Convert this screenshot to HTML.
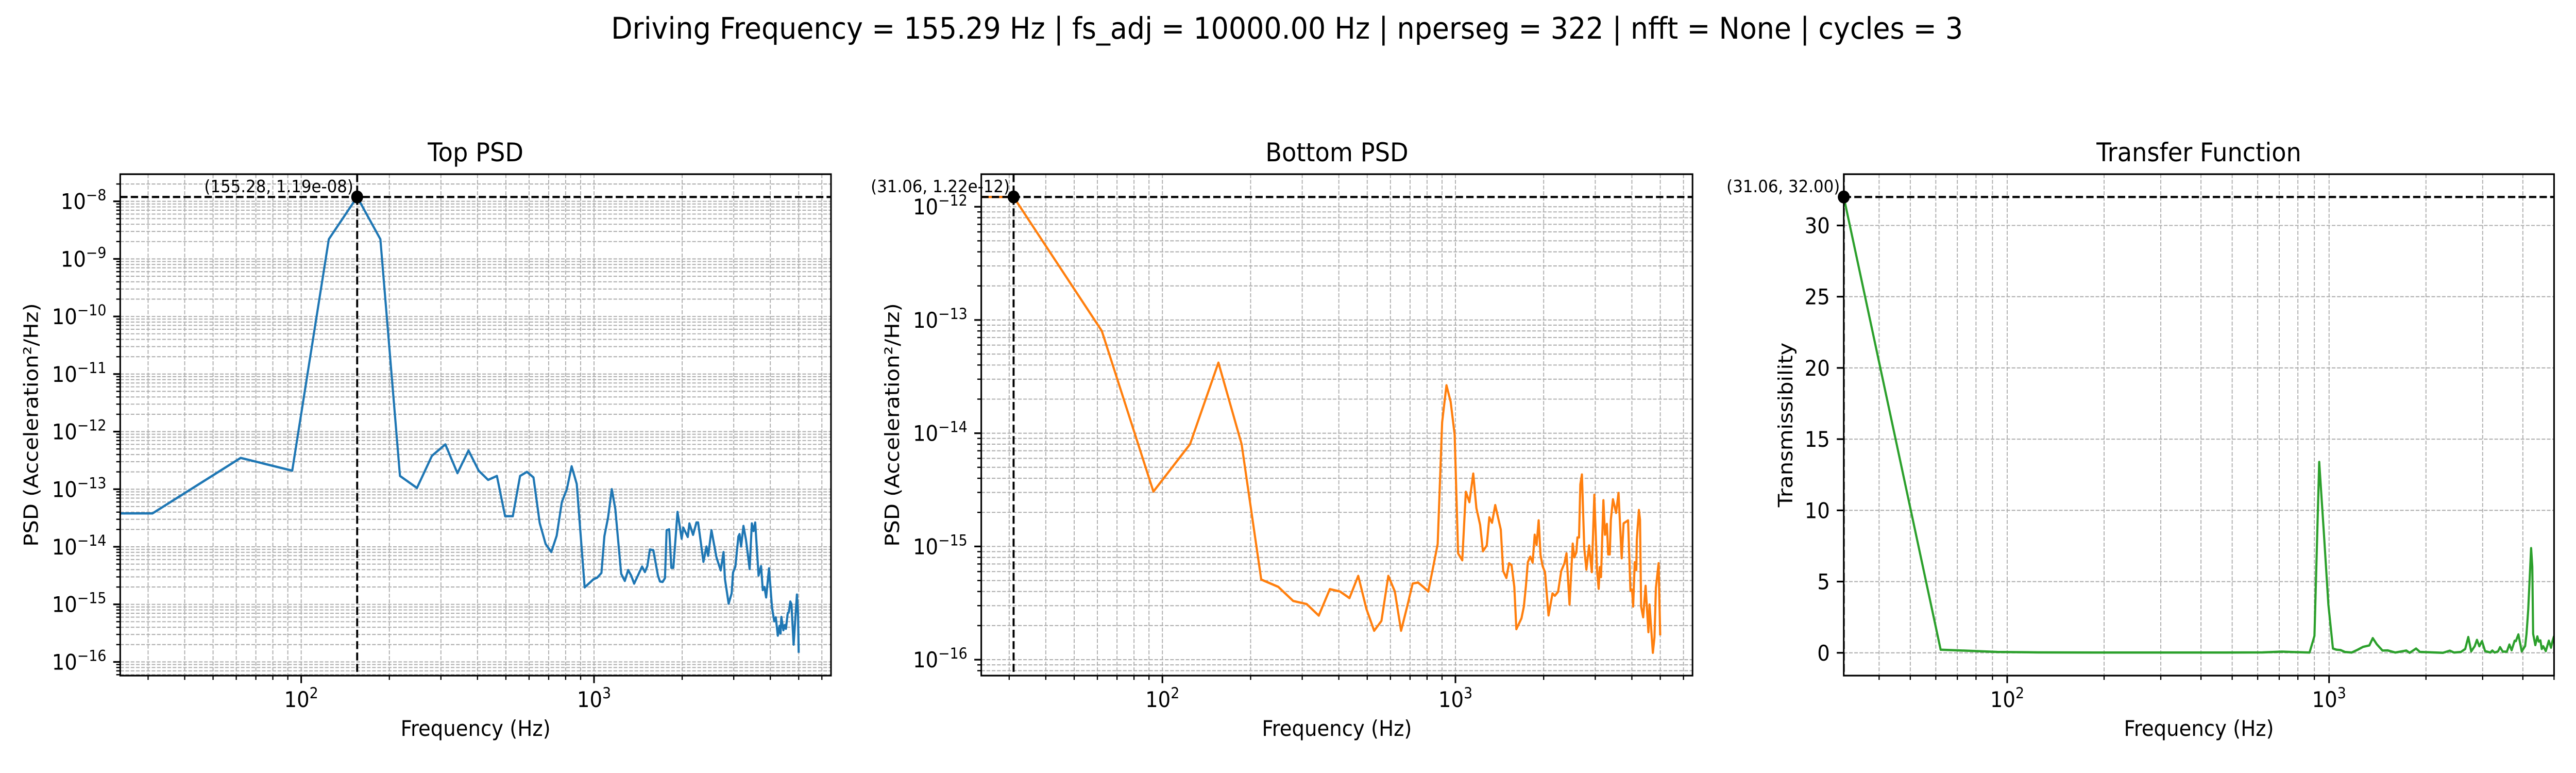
<!DOCTYPE html>
<html><head><meta charset="utf-8"><title>PSD and Transfer Function</title>
<style>
html,body{margin:0;padding:0;background:#fff;width:100%;height:100%;overflow:hidden;}
svg{display:block;position:absolute;left:0;top:0;width:100vw;height:100vh;overflow:hidden;font-family:"DejaVu Sans","Liberation Sans",sans-serif;}
</style></head>
<body>
<svg id="fig" xmlns="http://www.w3.org/2000/svg" viewBox="0 0 5400 1500" preserveAspectRatio="none">
<rect x="0" y="0" width="5400" height="1500" fill="#ffffff"/>
<text x="2698" y="75" font-size="58" text-anchor="middle" textLength="2834" lengthAdjust="spacingAndGlyphs">Driving Frequency = 155.29 Hz | fs_adj = 10000.00 Hz | nperseg = 322 | nfft = None | cycles = 3</text>
</svg>
<script>
// ---- Top PSD data ----
const topFreq = [0,31.06,62.12,93.18,124.24,155.28,186.35,217.41,248.47,279.53,310.59,341.65,372.71,403.77,434.83,465.9,496.96,528.0,559.1,590.1,621.2,652.3,683.3,714.4,745.4,776.5,807.6,838.6,
873,929,996,1026,1060,1085,1117,1150,1182,1238,1274,1308,1339,1371,1459,1492,1521,1552,1594,1653,1679,1715,1747,1770,1806,1837,1866,1928,1992,2018,2090,2117,2179,2237,2267,2364,2421,2453,2518,2620,2708,2769,2799,2882,2951,2983,3039,3112,3141,3179,3238,3303,3400,3459,3505,3552,3647,3720,3770,3820,3871,3959,4055,4126,4176,4243,4300,4335,4363,4433,4481,4522,4588,4631,4680,4723,4804,4931,4976,5000];
const topPsd = [3.8e-14,3.8e-14,3.5e-13,2.1e-13,2.2e-9,1.19e-8,2.2e-9,1.7e-13,1.05e-13,3.8e-13,6e-13,1.9e-13,4.7e-13,2.1e-13,1.45e-13,1.7e-13,3.4e-14,3.4e-14,1.7e-13,2e-13,1.6e-13,2.6e-14,1.12e-14,8.1e-15,1.55e-14,6e-14,1e-13,2.5e-13,
1.23e-13,1.97e-15,2.73e-15,2.92e-15,3.52e-15,1.53e-14,3.24e-14,1.0e-13,4.56e-14,3.4e-15,2.55e-15,3.95e-15,3.17e-15,2.29e-15,4.53e-15,3.64e-15,4.62e-15,8.97e-15,8.73e-15,3.17e-15,2.5e-15,2.45e-15,2.86e-15,1.94e-14,2.01e-14,4.32e-15,4.32e-15,4.03e-14,1.38e-14,2.15e-14,1.48e-14,2.55e-14,1.61e-14,2.64e-14,2.64e-14,5.48e-15,1.01e-14,6.97e-15,1.94e-14,6.5e-15,3.89e-15,8.09e-15,2.77e-15,1.03e-15,1.55e-15,3.56e-15,4.53e-15,1.51e-14,1.66e-14,1.01e-14,2.3e-14,1.33e-14,4.11e-15,2.55e-14,1.88e-14,2.64e-14,3.17e-15,4.62e-15,1.77e-15,2.0e-15,1.32e-15,4.22e-15,8.7e-16,5.08e-16,5.94e-16,2.86e-16,4.23e-16,3.11e-16,6.03e-16,3.56e-16,4.38e-16,3.77e-16,7.06e-16,7.45e-16,1.12e-15,1.01e-15,2.0e-16,1.48e-15,6.59e-16,1.44e-16];

// ---- Bottom PSD data ----
const botFreq = [0,31.06,62.12,93.18,124.24,155.3,186.35,217.41,248.47,279.53,310.59,341.65,372.71,403.77,434.83,465.9,496.96,528.0,559.1,590.1,621.2,652.3,683.3,714.4,745.4,776.5,807.6,838.6,869.7,900.7,931.8,962.9,993.9,
1021,1055,1085,1116,1150,1179,1214,1241,1279,1305,1333,1367,1428,1455,1492,1524,1554,1588,1614,1680,1712,1740,1766,1800,1834,1864,1892,1923,1952,1984,2021,2078,2144,2184,2240,2296,2355,2393,2451,2513,2544,2586,2608,2641,2668,2701,2752,2798,2858,2920,2978,3042,3081,3108,3139,3198,3238,3287,3320,3362,3391,3447,3534,3601,3692,3748,3882,3956,4005,4040,4091,4142,4158,4227,4264,4301,4371,4455,4555,4595,4717,4777,4831,4935,4997];
const botPsd = [1.22e-12,1.22e-12,8e-14,3.05e-15,8e-15,4.2e-14,8e-15,5.1e-16,4.4e-16,3.3e-16,3.1e-16,2.45e-16,4.2e-16,4e-16,3.5e-16,5.5e-16,2.8e-16,1.8e-16,2.2e-16,5.5e-16,4e-16,1.8e-16,2.9e-16,4.7e-16,4.8e-16,4.4e-16,4e-16,6.5e-16,1.05e-15,1.25e-14,2.65e-14,1.9e-14,9.7e-15,
8.69e-16,7.55e-16,3.04e-15,2.46e-15,4.4e-15,2.18e-15,1.55e-15,9.06e-16,1.02e-15,1.81e-15,1.62e-15,2.32e-15,1.41e-15,6.07e-16,5.27e-16,7.11e-16,6.84e-16,4.4e-16,1.86e-16,2.32e-16,2.95e-16,4.49e-16,7.26e-16,8.13e-16,7.2e-16,1.27e-15,1.03e-15,1.7e-15,8.36e-16,6.7e-16,5.94e-16,2.46e-16,3.85e-16,3.67e-16,3.98e-16,6.07e-16,7.11e-16,8.69e-16,3.07e-16,1.06e-15,8.02e-16,8.87e-16,1.2e-15,1.2e-15,3.53e-15,4.32e-15,9.62e-16,6.24e-16,1.02e-15,5.94e-16,2.86e-15,6.18e-16,4.23e-16,6.56e-16,5.37e-16,2.56e-15,1.27e-15,1.58e-15,8.51e-16,8.51e-16,1.72e-15,2.61e-15,1.98e-15,2.97e-15,7.87e-16,1.6e-15,1.7e-15,4.06e-16,4.14e-16,2.95e-16,7.26e-16,6.18e-16,1.15e-15,2.1e-15,1.72e-15,2.95e-16,2.37e-16,4.49e-16,1.75e-16,3.07e-16,1.15e-16,1.58e-16,4.32e-16,7.11e-16,1.64e-16];

// ---- Transfer function data ----
const tfFreq = [31.06,62.12,93.18,124.24,186.35,310.59,465.9,621.2,714.4,807.6,869.7,900.7,931.8,962.9,995,
1028,1054,1087,1120,1176,1228,1276,1334,1367,1407,1465,1520,1605,1738,1780,1863,1916,2259,2371,2444,2568,2648,2707,2764,2834,2880,2930,2986,3053,3168,3215,3268,3349,3398,3465,3567,3633,3691,3772,3804,3874,3968,4066,4106,4156,4243,4279,4305,4373,4437,4480,4535,4579,4628,4713,4817,4892,4945,5000];
const tfVal = [32.0,0.22,0.06,0.03,0.02,0.02,0.02,0.03,0.08,0.04,0.02,1.19,13.4,8.5,3.39,
0.30,0.22,0.19,0.06,0.02,0.22,0.42,0.52,1.03,0.60,0.16,0.17,0.02,0.16,0.0,0.30,0.06,0.0,0.15,0.02,0.06,0.27,1.11,0.10,0.46,0.91,0.46,0.82,0.12,0.02,0.16,0.02,0.10,0.40,0.08,0.08,0.58,0.18,0.85,0.82,1.29,0.10,0.48,1.33,3.02,7.35,6.05,1.33,0.54,1.15,0.79,0.87,0.27,0.46,0.12,0.85,0.36,0.82,1.18];

const NS='http://www.w3.org/2000/svg';
const svg=document.getElementById('fig');
function mk(tag, attrs, parent){const e=document.createElementNS(NS,tag);for(const k in attrs)e.setAttribute(k,attrs[k]);(parent||svg).appendChild(e);return e;}

const panels=[
 {key:'top',left:252,top:338,w:1490,h:973,freq:topFreq,vals:topPsd,color:'#1f77b4',logY:true,tight:false,title:'Top PSD',ylabel:'PSD (Acceleration²/Hz)',ylabelX:66},
 {key:'bottom',left:2057,top:338,w:1491,h:973,freq:botFreq,vals:botPsd,color:'#ff7f0e',logY:true,tight:false,title:'Bottom PSD',ylabel:'PSD (Acceleration²/Hz)',ylabelX:1871},
 {key:'transfer',left:3865,top:338,w:1489,h:973,freq:tfFreq,vals:tfVal,color:'#2ca02c',logY:false,tight:true,title:'Transfer Function',ylabel:'Transmissibility',ylabelX:3744}
];
const GRID='#b0b0b0';
function fmtExp(v){let s=v.toExponential(2);return s.replace(/e([+-])(\d)$/,'e$10$2');}

panels.forEach(p=>{
  const g=mk('g',{});
  
  
  const pos=p.freq.filter(f=>f>0);
  let xlo=Math.log10(Math.min(...pos)), xhi=Math.log10(Math.max(...pos));
  if(!p.tight){const m=(xhi-xlo)*0.05;xlo-=m;xhi+=m;}
  let ylo,yhi;
  if(p.logY){const lv=p.vals.map(v=>Math.log10(v));ylo=Math.min(...lv);yhi=Math.max(...lv);}
  else{ylo=Math.min(...p.vals);yhi=Math.max(...p.vals);}
  const ym=(yhi-ylo)*0.05;ylo-=ym;yhi+=ym;
  const L=p.left,T=p.top,R=p.left+p.w,B=p.top+p.h;
  const sx=f=>f<=0?L-200:L+(Math.log10(f)-xlo)/(xhi-xlo)*p.w;
  const sy=v=>p.logY?T+(yhi-Math.log10(v))/(yhi-ylo)*p.h:T+(yhi-v)/(yhi-ylo)*p.h;
  const syRaw=e=>T+(yhi-e)/(yhi-ylo)*p.h;

  const defs=mk('defs',{},g);
  const cp=mk('clipPath',{id:'clip-'+p.key},defs);
  mk('rect',{x:L,y:T,width:p.w,height:p.h},cp);

  const xt=[],xm=[];
  for(let d=Math.floor(xlo);d<=Math.ceil(xhi);d++){
    if(d>=xlo-1e-9&&d<=xhi+1e-9)xt.push(d);
    for(let m=2;m<=9;m++){const e=d+Math.log10(m);if(e>=xlo-1e-9&&e<=xhi+1e-9)xm.push(e);}
  }
  const xpos=e=>L+(e-xlo)/(xhi-xlo)*p.w;
  xm.forEach(e=>{
    const x=xpos(e);
    const gl=mk('line',{x1:x,x2:x,y1:T,y2:B,stroke:GRID,'stroke-width':2.1,'stroke-dasharray':'7.7 3.3'},g);
    
    
    const tk=mk('line',{x1:x,x2:x,y1:B,y2:B+8.3,stroke:'#000','stroke-width':2.5},g);
    
    
  });
  xt.forEach(e=>{
    const x=xpos(e);
    const gl=mk('line',{x1:x,x2:x,y1:T,y2:B,stroke:GRID,'stroke-width':2.1,'stroke-dasharray':'7.7 3.3'},g);
    
    
    const tk=mk('line',{x1:x,x2:x,y1:B,y2:B+14.6,stroke:'#000','stroke-width':3.3},g);
    
    
    const t=mk('text',{x:x,y:1372,'font-size':41.7,'text-anchor':'middle'},g);
    
    
    t.appendChild(document.createTextNode('10'));
    const sp=mk('tspan',{dy:-17,'font-size':29},t);
    sp.textContent=String(e).replace('-','\u2212');
  });

  if(p.logY){
    const yt=[],ymn=[];
    for(let d=Math.floor(ylo);d<=Math.ceil(yhi);d++){
      if(d>=ylo&&d<=yhi)yt.push(d);
      for(let m=2;m<=9;m++){const e=d+Math.log10(m);if(e>=ylo&&e<=yhi)ymn.push(e);}
    }
    ymn.forEach(e=>{
      const y=syRaw(e);
      const gl=mk('line',{x1:L,x2:R,y1:y,y2:y,stroke:GRID,'stroke-width':2.1,'stroke-dasharray':'7.7 3.3'},g);
      
      
      const tk=mk('line',{x1:L-8.3,x2:L,y1:y,y2:y,stroke:'#000','stroke-width':2.5},g);
      
      
    });
    yt.forEach(e=>{
      const y=syRaw(e);
      const gl=mk('line',{x1:L,x2:R,y1:y,y2:y,stroke:GRID,'stroke-width':2.1,'stroke-dasharray':'7.7 3.3'},g);
      
      
      const tk=mk('line',{x1:L-14.6,x2:L,y1:y,y2:y,stroke:'#000','stroke-width':3.3},g);
      
      
      const t=mk('text',{x:L-29,y:y+15,'font-size':41.7,'text-anchor':'end'},g);
      
      
      t.appendChild(document.createTextNode('10'));
      const sp=mk('tspan',{dy:-17,'font-size':29},t);
      sp.textContent=String(e).replace('-','\u2212');
    });
  } else {
    for(let v=Math.ceil(ylo/5)*5;v<=yhi;v+=5){
      const y=sy(v);
      const gl=mk('line',{x1:L,x2:R,y1:y,y2:y,stroke:GRID,'stroke-width':2.1,'stroke-dasharray':'7.7 3.3'},g);
      
      
      const tk=mk('line',{x1:L-14.6,x2:L,y1:y,y2:y,stroke:'#000','stroke-width':3.3},g);
      
      
      const t=mk('text',{x:L-29,y:y+15,'font-size':41.7,'text-anchor':'end'},g);
      
      
      t.textContent=String(v);
    }
  }

  const d=p.freq.map((f,i)=>(i?'L':'M')+sx(f).toFixed(2)+' '+sy(p.vals[i]).toFixed(2)).join(' ');
  const ln=mk('path',{d:d,fill:'none',stroke:p.color,'stroke-width':4.5,'stroke-linejoin':'round','clip-path':'url(#clip-'+p.key+')'},g);
  
  

  let pi=-1;p.freq.forEach((f,i)=>{if(f>0&&(pi<0||p.vals[i]>p.vals[pi]))pi=i;});
  const px=sx(p.freq[pi]),py=sy(p.vals[pi]);
  const hl=mk('line',{x1:L,x2:R,y1:py,y2:py,stroke:'#000','stroke-width':4.2,'stroke-dasharray':'15.4 6.7'},g);
  
  
  const vl=mk('line',{x1:px,x2:px,y1:T,y2:B,stroke:'#000','stroke-width':4.2,'stroke-dasharray':'15.4 6.7','clip-path':'url(#clip-'+p.key+')'},g);
  
  
  const mkr=mk('circle',{cx:px,cy:py,r:12.5,fill:'#000'},g);
  
  
  const at=mk('text',{x:px-8,y:py-9,'font-size':33.3,'text-anchor':'end'},g);
  
  
  at.textContent='('+p.freq[pi].toFixed(2)+', '+(p.logY?fmtExp(p.vals[pi]):p.vals[pi].toFixed(2))+')';

  const sp=mk('rect',{x:L,y:T,width:p.w,height:p.h,fill:'none',stroke:'#000','stroke-width':3.3},g);
  
  

  const ti=mk('text',{x:L+p.w/2,y:313,'font-size':50,'text-anchor':'middle'},g);
  
  
  ti.textContent=p.title;
  const xl=mk('text',{x:L+p.w/2,y:1428,'font-size':41.7,'text-anchor':'middle'},g);
  
  
  xl.textContent='Frequency (Hz)';
  const cy=T+p.h/2;
  const yl=mk('text',{x:p.ylabelX,y:cy,'font-size':41.7,'text-anchor':'middle','dominant-baseline':'central',transform:'rotate(-90 '+p.ylabelX+' '+cy+')'},g);
  
  
  yl.textContent=p.ylabel;
});
</script>
</body></html>
